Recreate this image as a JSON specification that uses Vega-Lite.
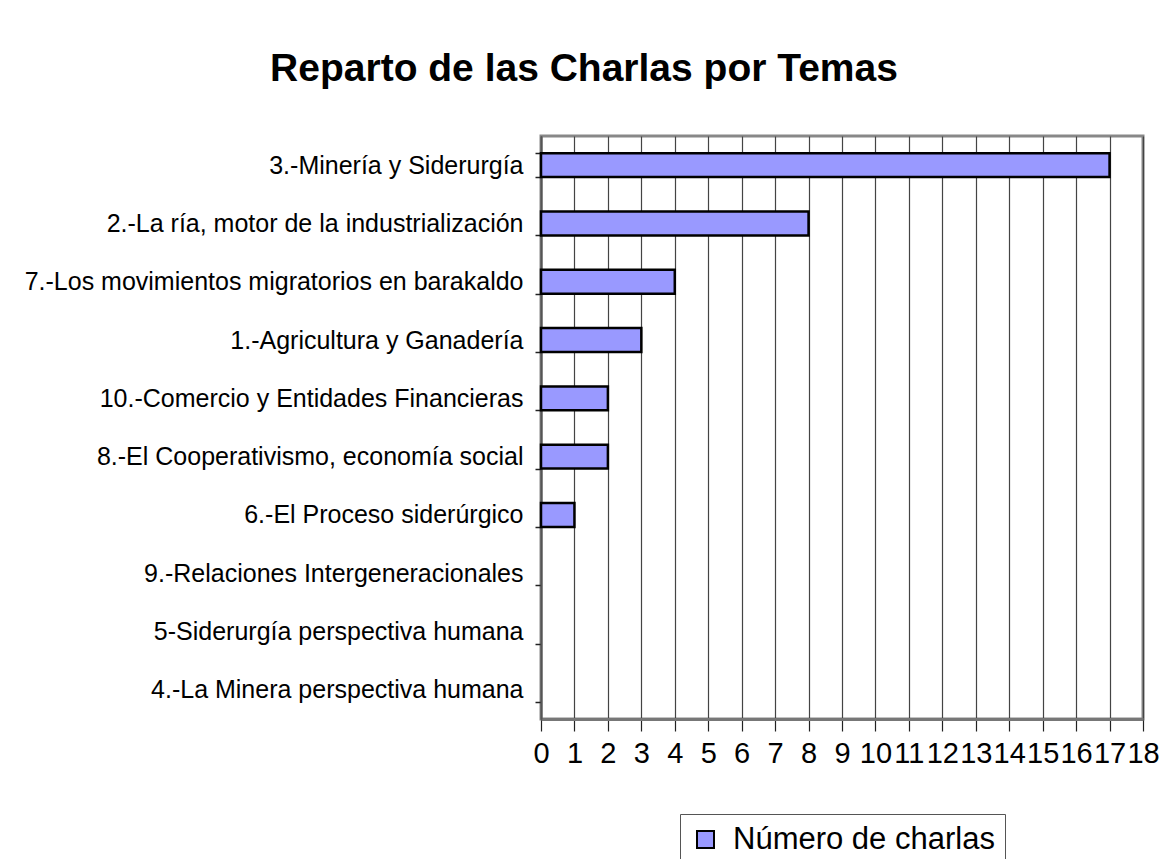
{
  "$schema": "https://vega.github.io/schema/vega-lite/v6.json",
  "autosize": {"type": "none"},
  "padding": {"left": 541, "top": 136, "right": 26, "bottom": 140},
  "width": 602,
  "height": 583,
  "background": "white",
  "title": {
    "text": "Reparto de las Charlas por Temas",
    "font": "Liberation Sans",
    "fontSize": 39,
    "fontWeight": "bold",
    "color": "black",
    "anchor": "middle",
    "frame": "group",
    "dx": -258,
    "offset": 35
  },
  "data": {
    "values": [
      {"tema": "3.-Minería y Siderurgía", "charlas": 17},
      {"tema": "2.-La ría, motor de la industrialización", "charlas": 8},
      {"tema": "7.-Los movimientos migratorios en barakaldo", "charlas": 4},
      {"tema": "1.-Agricultura y Ganadería", "charlas": 3},
      {"tema": "10.-Comercio y Entidades Financieras", "charlas": 2},
      {"tema": "8.-El Cooperativismo, economía social", "charlas": 2},
      {"tema": "6.-El Proceso siderúrgico", "charlas": 1},
      {"tema": "9.-Relaciones Intergeneracionales", "charlas": 0},
      {"tema": "5-Siderurgía perspectiva humana", "charlas": 0},
      {"tema": "4.-La Minera perspectiva humana", "charlas": 0}
    ]
  },
  "mark": {"type": "bar", "stroke": "black", "strokeWidth": 2.5},
  "encoding": {
    "y": {
      "field": "tema",
      "type": "nominal",
      "sort": null,
      "scale": {"paddingInner": 0.59, "paddingOuter": 0.295},
      "axis": {
        "title": null,
        "labelFont": "Liberation Sans",
        "labelFontSize": 25,
        "labelColor": "black",
        "labelPadding": 12,
        "labelLimit": 0,
        "tickBand": "extent",
        "tickSize": 6,
        "tickColor": "#222",
        "tickWidth": 1.5,
        "domainColor": "#555",
        "domainWidth": 2,
        "grid": false
      }
    },
    "x": {
      "field": "charlas",
      "type": "quantitative",
      "scale": {"domain": [0, 18], "nice": false, "zero": true},
      "axis": {
        "title": null,
        "values": [0,1,2,3,4,5,6,7,8,9,10,11,12,13,14,15,16,17,18],
        "labelFont": "Liberation Sans",
        "labelFontSize": 29,
        "labelColor": "black",
        "labelPadding": 8,
        "labelOverlap": false,
        "labelFlush": false,
        "tickSize": 12,
        "tickColor": "#222",
        "tickWidth": 1.2,
        "domainColor": "#777",
        "domainWidth": 3,
        "grid": true,
        "gridColor": "#444",
        "gridWidth": 1.2,
        "gridOpacity": 1
      }
    },
    "strokeOpacity": {
      "condition": {"test": "datum.charlas > 0", "value": 1},
      "value": 0
    },
    "color": {
      "datum": "Número de charlas",
      "type": "nominal",
      "scale": {"range": ["#9999FF"]},
      "legend": {
        "title": null,
        "orient": "none",
        "legendX": 139,
        "legendY": 678,
        "symbolType": "square",
        "symbolSize": 289,
        "symbolStrokeColor": "black",
        "symbolStrokeWidth": 2,
        "symbolFillColor": "#9999FF",
        "labelFont": "Liberation Sans",
        "labelFontSize": 31,
        "labelColor": "black",
        "labelLimit": 0,
        "labelOffset": 12,
        "padding": 10,
        "strokeColor": "#555",
        "fillColor": "white"
      }
    }
  },
  "config": {
    "view": {"stroke": "#888", "strokeWidth": 3}
  }
}
